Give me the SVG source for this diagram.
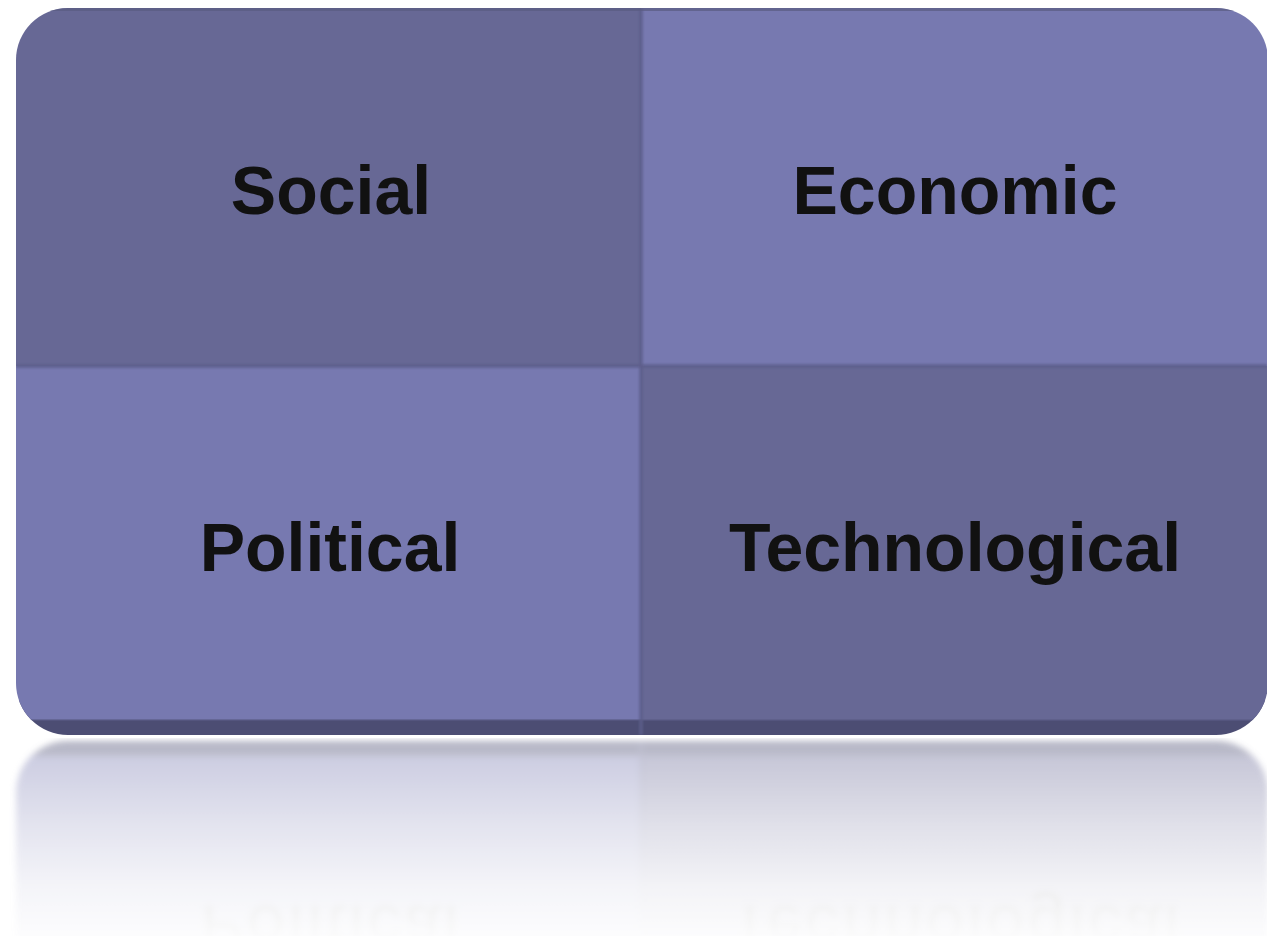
<svg xmlns="http://www.w3.org/2000/svg" xmlns:xlink="http://www.w3.org/1999/xlink" width="1267" height="936" viewBox="0 0 1267 936">
  <style>
    .dark { fill: #676895; }
    .light { fill: #7779b0; }
    .label { font-family: "Liberation Sans", Arial, sans-serif; font-weight: bold; font-size: 68px; fill: #111111; text-anchor: middle; }
    .seam { stroke: #5d5e8b; stroke-width: 4; fill: none; opacity: 0.8; }
  </style>
  <defs>
    <clipPath id="cardClip">
      <rect x="16" y="8" width="1252" height="727" rx="52" ry="52"/>
    </clipPath>
    <filter id="soft" x="-5%" y="-5%" width="110%" height="110%">
      <feGaussianBlur stdDeviation="1.2"/>
    </filter>
    <filter id="haze">
      <feGaussianBlur stdDeviation="3"/>
    </filter>
    <linearGradient id="fade" x1="0" y1="738" x2="0" y2="936" gradientUnits="userSpaceOnUse">
      <stop offset="0" stop-color="#fff" stop-opacity="0.42"/>
      <stop offset="0.45" stop-color="#fff" stop-opacity="0.2"/>
      <stop offset="0.75" stop-color="#fff" stop-opacity="0.08"/>
      <stop offset="1" stop-color="#fff" stop-opacity="0.02"/>
    </linearGradient>
    <mask id="reflMask" maskUnits="userSpaceOnUse" x="0" y="700" width="1267" height="236">
      <rect x="0" y="738" width="1267" height="198" fill="url(#fade)"/>
    </mask>
  </defs>

  <rect width="1267" height="936" fill="#ffffff"/>

  <!-- the four-quadrant card -->
  <g id="card">
    <g clip-path="url(#cardClip)">
      <!-- bottom extrusion band -->
      <rect x="0" y="700" width="1267" height="40" fill="#4c4d73"/>
      <g id="node-social">
        <rect class="dark" x="16" y="8" width="625" height="358"/>
        <text class="label" x="331" y="214">Social</text>
      </g>
      <g id="node-economic">
        <rect class="light" x="641" y="8" width="627" height="358"/>
        <text class="label" x="955" y="214">Economic</text>
      </g>
      <g id="node-political">
        <rect class="light" x="16" y="366" width="625" height="354"/>
        <text class="label" x="330" y="571">Political</text>
      </g>
      <g id="node-technological">
        <rect class="dark" x="641" y="366" width="627" height="354"/>
        <text class="label" x="955" y="571">Technological</text>
      </g>
      <!-- seams between the quadrants -->
      <g id="connectors" filter="url(#soft)">
        <line class="seam" x1="641" y1="8" x2="641" y2="735"/>
        <line class="seam" x1="16" y1="366" x2="1267" y2="366"/>
      </g>
      <!-- top rim -->
      <rect x="0" y="8" width="1267" height="3" fill="#5a5b82" opacity="0.7"/>
      <!-- shading line under the front face -->
      <rect x="0" y="719" width="1267" height="2" fill="#5a5b85" opacity="0.6"/>
    </g>
  </g>

  <!-- mirrored reflection below the card -->
  <g id="reflection" mask="url(#reflMask)">
    <g filter="url(#haze)">
      <use xlink:href="#card" href="#card" transform="translate(0,1476) scale(1,-1)"/>
    </g>
  </g>
</svg>
